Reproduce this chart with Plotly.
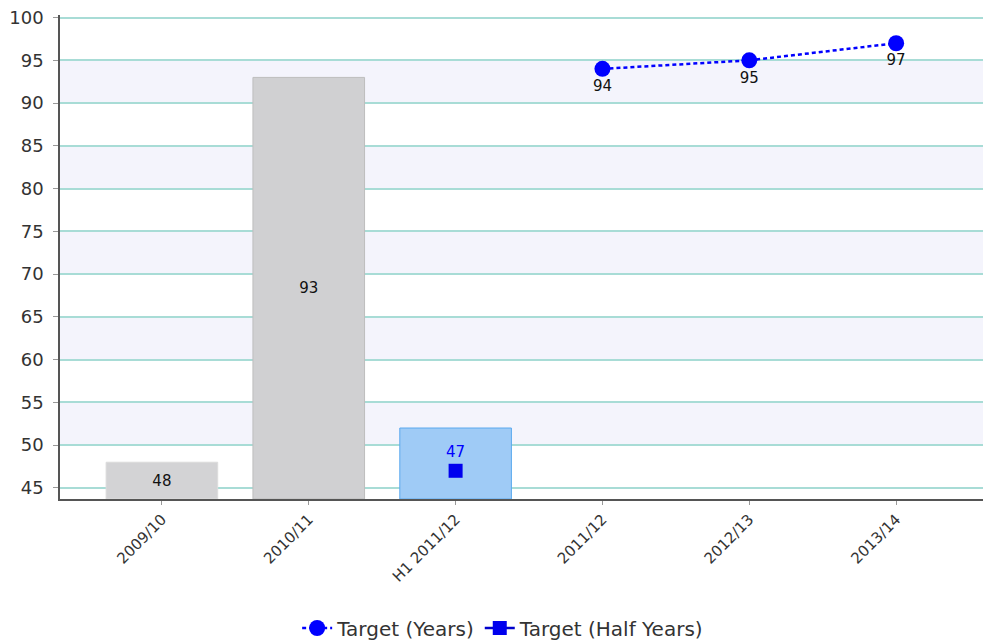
import plotly.graph_objects as go

categories = ["2009/10", "2010/11", "H1 2011/12", "2011/12", "2012/13", "2013/14"]

bar_categories = ["2009/10", "2010/11", "H1 2011/12"]
bar_values = [48, 93, 52]
bar_text = ["48", "93", ""]
bar_colors = ["#d3d3d5", "#d0d0d2", "#9fcbf6"]
bar_line_colors = ["#dcdcdc", "#bdbdbd", "#5aa9ee"]

target_years_x = ["2011/12", "2012/13", "2013/14"]
target_years_y = [94, 95, 97]

target_half_x = ["H1 2011/12"]
target_half_y = [47]

y_min, y_max = 43.7, 100.3
y_ticks = list(range(45, 101, 5))
band_starts = [50, 60, 70, 80, 90]

FONT = "DejaVu Sans"

fig = go.Figure()

fig.add_trace(go.Bar(
    x=bar_categories, y=[v - y_min for v in bar_values], base=y_min,
    width=0.76,
    marker=dict(color=bar_colors, line=dict(color=bar_line_colors, width=1)),
    text=bar_text, textposition="inside", insidetextanchor="middle",
    textfont=dict(family=FONT, size=15, color="#111"),
    showlegend=False, hoverinfo="skip",
))

fig.add_trace(go.Scatter(
    x=target_years_x, y=target_years_y, name="Target (Years)",
    mode="lines+markers+text",
    line=dict(color="#0000ff", width=2.5, dash="4px,3px"),
    marker=dict(symbol="circle", size=16, color="#0000ff"),
    text=[str(v) for v in target_years_y], textposition="bottom center",
    textfont=dict(family=FONT, size=15, color="#111"),
))

fig.add_trace(go.Scatter(
    x=target_half_x, y=target_half_y, name="Target (Half Years)",
    mode="lines+markers+text",
    line=dict(color="#0000cc", width=2.5),
    marker=dict(symbol="square", size=14, color="#0000ee"),
    text=[str(v) for v in target_half_y], textposition="top center",
    textfont=dict(family=FONT, size=15, color="#0000ff"),
))

shapes = []
for b in band_starts:
    shapes.append(dict(type="rect", xref="paper", yref="y", x0=0, x1=1, y0=b, y1=b + 5,
                       fillcolor="#f4f4fc", line=dict(width=0), layer="below"))

fig.update_layout(
    width=983, height=636,
    margin=dict(l=52, r=0, t=7, b=145, autoexpand=False),
    paper_bgcolor="white", plot_bgcolor="white",
    font=dict(family=FONT, color="#333"),
    shapes=shapes,
    barmode="overlay",
    legend=dict(orientation="h", x=0.476, xanchor="center", y=-0.2665, yanchor="middle",
                font=dict(family=FONT, size=20, color="#333"), bgcolor="rgba(0,0,0,0)",
                itemwidth=30),
    xaxis=dict(
        type="category", categoryorder="array", categoryarray=categories,
        range=[-0.694, 5.646], automargin=False,
        tickangle=-45, tickfont=dict(family=FONT, size=15, color="#333"),
        showline=True, linecolor="#555", linewidth=1.5,
        ticks="outside", ticklen=4, tickcolor="#999",
        showgrid=False, zeroline=False,
    ),
    yaxis=dict(
        range=[y_min, y_max], tickvals=y_ticks, automargin=False,
        tickfont=dict(family=FONT, size=18, color="#333"),
        ticklabeloverflow="allow",
        showline=True, linecolor="#555", linewidth=1.5,
        ticks="outside", ticklen=5, tickcolor="#999", ticklabelstandoff=6,
        showgrid=True, gridcolor="#a8dcd6", gridwidth=1.5,
        zeroline=False,
    ),
)

fig.write_html("out.html")
